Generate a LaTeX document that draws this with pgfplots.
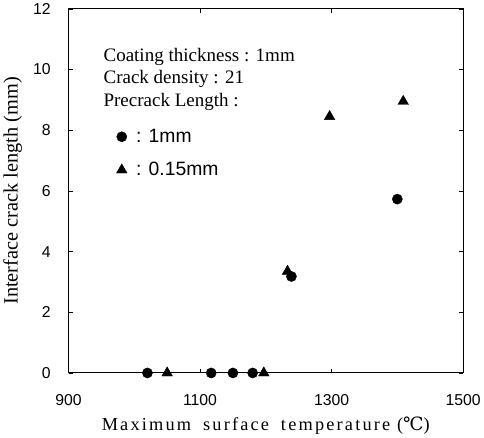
\documentclass[border=0pt]{standalone}
\usepackage{fontspec}
\setmainfont{Liberation Serif}
\setsansfont{Liberation Sans}
\newfontfamily\dejavu{DejaVu Serif}
\newfontfamily\spaced{Liberation Serif}[LetterSpace=12]
\usepackage{pgfplots}
\pgfplotsset{compat=1.18}

\begin{document}
\begin{tikzpicture}
  \begin{axis}[
      scale only axis,
      width=388pt, height=358pt,
      xmin=900, xmax=1500,
      ymin=0, ymax=12,
      xtick={900,1100,1300,1500},
      ytick={0,2,...,12},
      tick align=inside,
      major tick length=4pt,
      axis line style={line width=1pt},
      tick style={black, line width=0.6pt},
      /pgf/number format/assume math mode=true,
      /pgf/number format/1000 sep={},
      ticklabel style={font=\sffamily\fontsize{15.5}{18}\selectfont},
      yticklabel style={xshift=-14pt},
      xticklabel style={yshift=-18pt},
      xlabel={\spaced\fontsize{18}{21}\selectfont Maximum\hspace{5pt} surface\hspace{5pt} temperature ({\dejavu ℃})},
      ylabel={\fontsize{20}{22}\selectfont Interface crack length (mm)},
      xlabel style={yshift=-4pt},
      ylabel style={yshift=4pt},
      legend style={
        at={(axis cs:968,8.17)}, anchor=north west,
        draw=none, fill=none,
        font=\sffamily\fontsize{19}{21}\selectfont,
        row sep=14pt,
        /tikz/every odd column/.append style={column sep=7pt},
      },
      legend cell align=left,
    ]
    \addplot[only marks, mark=*, mark size=5pt, black] coordinates {
      (1020,0) (1117,0) (1150,0) (1180,0) (1239,3.18) (1400,5.73)
    };
    \addlegendentry{: 1mm}
    \addplot[only marks, mark=triangle*, mark size=6pt, black] coordinates {
      (1050,0) (1197,0) (1233,3.35) (1297,8.45) (1409,8.95)
    };
    \addlegendentry{: 0.15mm}
    \node[anchor=north west, align=left, inner sep=0pt,
          font=\fontsize{18.7}{22.5}\selectfont]
      at (axis cs:953,10.72) {Coating thickness : 1mm\\Crack density : 21\\Precrack Length :};
  \end{axis}
\end{tikzpicture}
\end{document}
